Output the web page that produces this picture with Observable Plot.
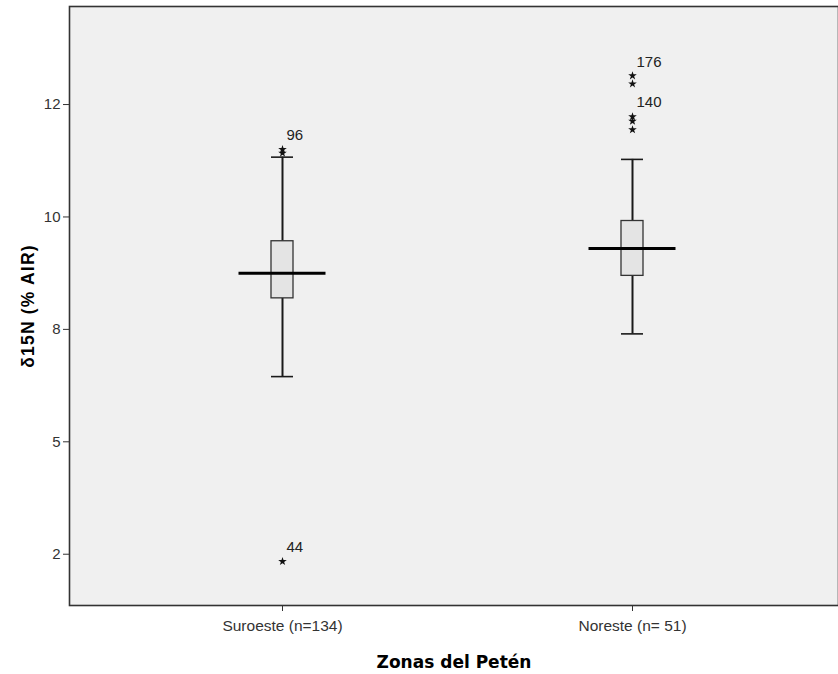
<!DOCTYPE html>
<html>
<head>
<meta charset="utf-8">
<script src="https://cdn.jsdelivr.net/npm/d3@7"></script>
<script src="https://cdn.jsdelivr.net/npm/@observablehq/plot@0.6"></script>
<style>
  html, body { margin: 0; padding: 0; background: #fff; }
  g[aria-label="y-axis label"] text { font-family: "Liberation Sans", Arial, sans-serif; font-weight: bold; font-size: 17.5px; letter-spacing: 1.2px; fill: #000; }
  g[aria-label="x-axis label"] text { font-family: "DejaVu Sans", Verdana, sans-serif; font-weight: bold; font-size: 17px; fill: #000; }
</style>
</head>
<body>
<div id="chart"></div>
<script>
// ---- data ----
const zones = ["Suroeste (n=134)", "Noreste (n= 51)"];
const whiskerLow  = [6.45, 7.40];
const q1          = [8.19, 8.69];
const median      = [8.75, 9.30];
const q3          = [9.46, 9.91];
const whiskerHigh = [11.33, 11.28];

const outlierZone  = ["Suroeste (n=134)", "Suroeste (n=134)", "Suroeste (n=134)",
                      "Noreste (n= 51)", "Noreste (n= 51)", "Noreste (n= 51)", "Noreste (n= 51)", "Noreste (n= 51)"];
const outlierValue = [11.50, 11.42, 2.34, 13.14, 12.96, 12.23, 12.13, 11.94];
const outlierLabel = ["96", "", "44", "176", "", "140", "", ""];

const yTicks = [2.5, 5, 7.5, 10, 12.5];
const yTickLabels = ["2", "5", "8", "10", "12"];

const yTitle = "δ15N (% AIR)";
const xTitle = "Zonas del Petén";

// ---- tables built from the arrays ----
const boxes = zones.map((z, i) => ({
  zone: z, lo: whiskerLow[i], q1: q1[i], med: median[i], q3: q3[i], hi: whiskerHigh[i]
}));
const outliers = outlierValue.map((v, i) => ({ zone: outlierZone[i], value: v, label: outlierLabel[i] }));

const chart = Plot.plot({
  width: 838,
  height: 674,
  marginLeft: 69,
  marginRight: 0,
  marginTop: 6,
  marginBottom: 69,
  style: { fontFamily: "'Liberation Sans', Arial, sans-serif", fontSize: "15px", background: "#fff", color: "#333", overflow: "visible" },
  x: { type: "band", domain: zones, range: [107, 807], padding: 0 },
  y: { domain: [1.36, 14.68] },
  marks: [
    Plot.frame({ fill: "#f0f0f0", stroke: "none" }),
    // whiskers
    Plot.ruleX(boxes, { x: "zone", y1: "lo", y2: "q1", stroke: "#1a1a1a", strokeWidth: 2 }),
    Plot.ruleX(boxes, { x: "zone", y1: "q3", y2: "hi", stroke: "#1a1a1a", strokeWidth: 2 }),
    // whisker caps
    Plot.tickY(boxes, { x: "zone", y: "lo", stroke: "#1a1a1a", strokeWidth: 1.6, insetLeft: 164, insetRight: 164 }),
    Plot.tickY(boxes, { x: "zone", y: "hi", stroke: "#1a1a1a", strokeWidth: 1.6, insetLeft: 164, insetRight: 164 }),
    // box
    Plot.barY(boxes, { x: "zone", y1: "q1", y2: "q3", fill: "#e4e4e4", stroke: "#333", strokeWidth: 1.3, insetLeft: 164, insetRight: 164 }),
    // median
    Plot.tickY(boxes, { x: "zone", y: "med", stroke: "#000", strokeWidth: 3, insetLeft: 131.5, insetRight: 131.5 }),
    // outliers
    Plot.dot(outliers, { x: "zone", y: "value", symbol: "star", r: 2.7, fill: "#111", stroke: "none" }),
    Plot.text(outliers.filter(d => d.label), { x: "zone", y: "value", text: "label", dx: 4, dy: -14, textAnchor: "start", fontSize: 15, fill: "#222" }),
    // axes
    Plot.axisY({
      ticks: yTicks,
      tickFormat: d => yTickLabels[yTicks.indexOf(d)],
      tickSize: 6, tickPadding: 3, fontSize: 15, stroke: "#333", fill: "#333",
      label: yTitle, labelAnchor: "center", labelOffset: 48, labelArrow: "none"
    }),
    Plot.axisX({
      tickSize: 6, tickPadding: 8, fontSize: 15.5, stroke: "#333", fill: "#333",
      label: xTitle, labelAnchor: "center", labelOffset: 62, labelArrow: "none"
    }),
    Plot.frame({ stroke: "#333", strokeWidth: 1.6, fill: "none" })
  ]
});
document.getElementById("chart").appendChild(chart);
</script>
</body>
</html>
